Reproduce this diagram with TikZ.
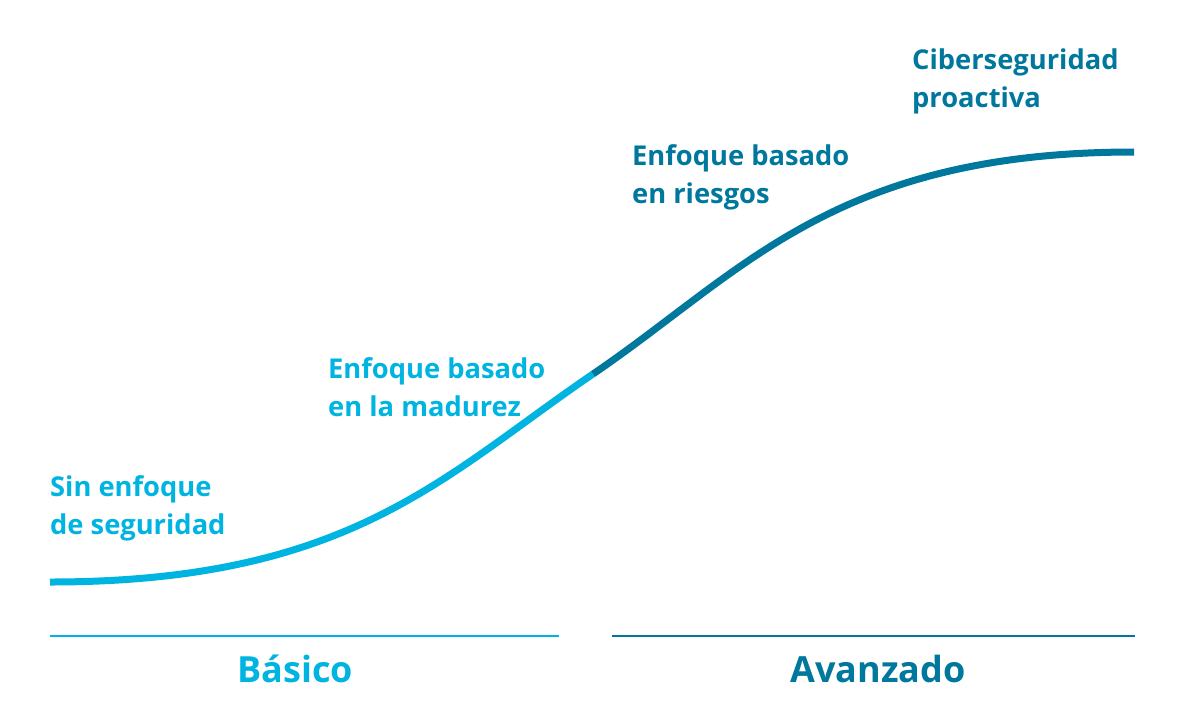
\documentclass[tikz,border=0pt]{standalone}
\usepackage{fontspec}
\setmainfont{Open Sans}
\definecolor{lightblue}{HTML}{00B4E2}
\definecolor{darkblue}{HTML}{00779C}
\begin{document}
\begin{tikzpicture}[x=1pt,y=-1pt,
  lbl/.style={anchor=base west,inner sep=0pt,font=\bfseries\fontsize{27.3}{30}\selectfont},
  cat/.style={anchor=base,inner sep=0pt,font=\bfseries\fontsize{36}{40}\selectfont},
  curve/.style={line width=7pt,line cap=butt}]
\useasboundingbox (0,0) rectangle (1200,724);
% curve
\coordinate (s) at (50,582);
\coordinate (m) at (593,374);
\coordinate (e) at (1134,152);
\draw[curve,lightblue] (s) .. controls (350,582) and (443,476) .. (m);
\draw[curve,darkblue] (m) .. controls (743,272) and (834,152) .. (e);
% baselines
\coordinate (b1) at (50,636);
\coordinate (b2) at (559,636);
\coordinate (a1) at (612,636);
\coordinate (a2) at (1135,636);
\draw[lightblue,line width=1.3pt] (b1) -- (b2);
\draw[darkblue,line width=1.3pt] (a1) -- (a2);
% labels
\node[lbl,lightblue] (l1a) at (50,496) {Sin enfoque};
\node[lbl,lightblue] (l1b) at (50,534) {de seguridad};
\node[lbl,lightblue] (l2a) at (328,378) {Enfoque basado};
\node[lbl,lightblue] (l2b) at (328,416) {en la madurez};
\node[lbl,darkblue] (l3a) at (632,165) {Enfoque basado};
\node[lbl,darkblue] (l3b) at (632,203) {en riesgos};
\node[lbl,darkblue] (l4a) at (912,69) {Ciberseguridad};
\node[lbl,darkblue] (l4b) at (912,107) {proactiva};
\node[cat,lightblue] (basico) at (295,682) {Básico};
\node[cat,darkblue] (avanzado) at (878,682) {Avanzado};
\end{tikzpicture}
\end{document}
